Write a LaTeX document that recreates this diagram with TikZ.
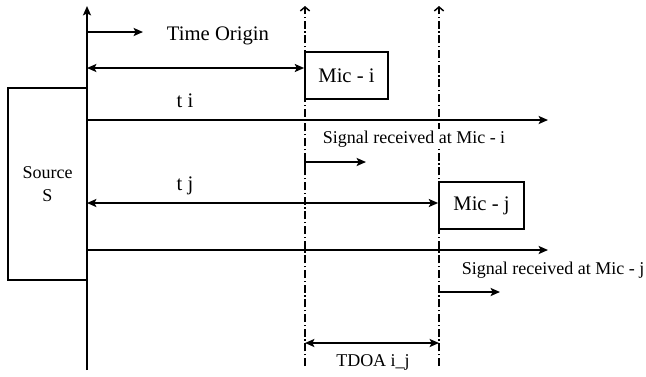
\documentclass[tikz,border=0pt]{standalone}
\usepackage{fontspec}
\setmainfont{Liberation Serif}
\usetikzlibrary{arrows.meta}

\tikzset{
  axis/.style={line width=1.3pt},
  micline/.style={line width=1.1pt,dash pattern=on 6pt off 2pt on 1pt off 2pt,-{Straight Barb[length=3pt,width=7pt]}},
  sarrow/.style={line width=1.3pt,-{Stealth[length=7pt,width=6pt,inset=1.5pt]}},
  darrow/.style={line width=1.3pt,{Stealth[length=7pt,width=6pt,inset=1.5pt]}-{Stealth[length=7pt,width=6pt,inset=1.5pt]}},
  micbox/.style={draw,line width=1.3pt,inner sep=0pt,font=\fontsize{15.5}{18}\selectfont},
  lbl/.style={inner sep=0pt,font=\fontsize{15.5}{18}\selectfont},
  slbl/.style={fill=white,inner sep=1pt,font=\fontsize{13.5}{16}\selectfont}
}

\begin{document}
\begin{tikzpicture}[x=0.75pt,y=-0.75pt]
\useasboundingbox (0,0) rectangle (646,376);

%time axis of the source and the two mic lines
\coordinate (axtop) at (87,6);
\coordinate (axbot) at (87,370);
\coordinate (mitop) at (305,6);
\coordinate (mibot) at (305,366);
\coordinate (mjtop) at (439,6);
\coordinate (mjbot) at (439,366);
\draw[axis,-{Stealth[length=7pt,width=6pt,inset=1.5pt]}] (axbot) -- (axtop);
\draw[micline] (mibot) -- (mitop);
\draw[micline] (mjbot) -- (mjtop);

%source box
\node[draw,line width=1.3pt,minimum width=79*0.75pt,minimum height=192*0.75pt,align=center,
      font=\fontsize{13.5}{17}\selectfont] (src) at (47.5,184) {Source\\S};

%time origin
\coordinate (to0) at (87,32);
\coordinate (to1) at (143,32);
\draw[sarrow] (to0) -- (to1);
\node[lbl] (tolbl) at (218,36) {Time Origin};

%mic i
\node[micbox,minimum width=83*0.75pt,minimum height=47*0.75pt] (mici) at (346.5,75.5) {Mic - i};
\coordinate (ti0) at (87,68);
\draw[darrow] (ti0) -- (ti0 -| mici.west);
\node[lbl] (tilbl) at (185,101) {t i};
\coordinate (sigi0) at (87,120);
\coordinate (sigi1) at (548,120);
\draw[sarrow] (sigi0) -- (sigi1);
\node[slbl] (sigilbl) at (414,139) {Signal received at Mic - i};
\coordinate (ri0) at (305,168);
\coordinate (ri1) at (366,162);
\draw[sarrow] (ri0) |- (ri1);

%mic j
\node[micbox,minimum width=85*0.75pt,minimum height=47*0.75pt] (micj) at (481.5,205.5) {Mic - j};
\coordinate (tj0) at (87,203);
\draw[darrow] (tj0) -- (tj0 -| micj.west);
\node[lbl] (tjlbl) at (185,186) {t j};
\coordinate (sigj0) at (87,250);
\coordinate (sigj1) at (548,250);
\draw[sarrow] (sigj0) -- (sigj1);
\node[slbl] (sigjlbl) at (553,270) {Signal received at Mic - j};
\coordinate (rj0) at (439,287);
\coordinate (rj1) at (500,292);
\draw[sarrow] (rj0) |- (rj1);

%time difference of arrival
\coordinate (td0) at (305,343);
\coordinate (td1) at (439,343);
\draw[darrow] (td0) -- (td1);
\node[slbl] (tdlbl) at (373,362) {TDOA i\_j};

\end{tikzpicture}
\end{document}
